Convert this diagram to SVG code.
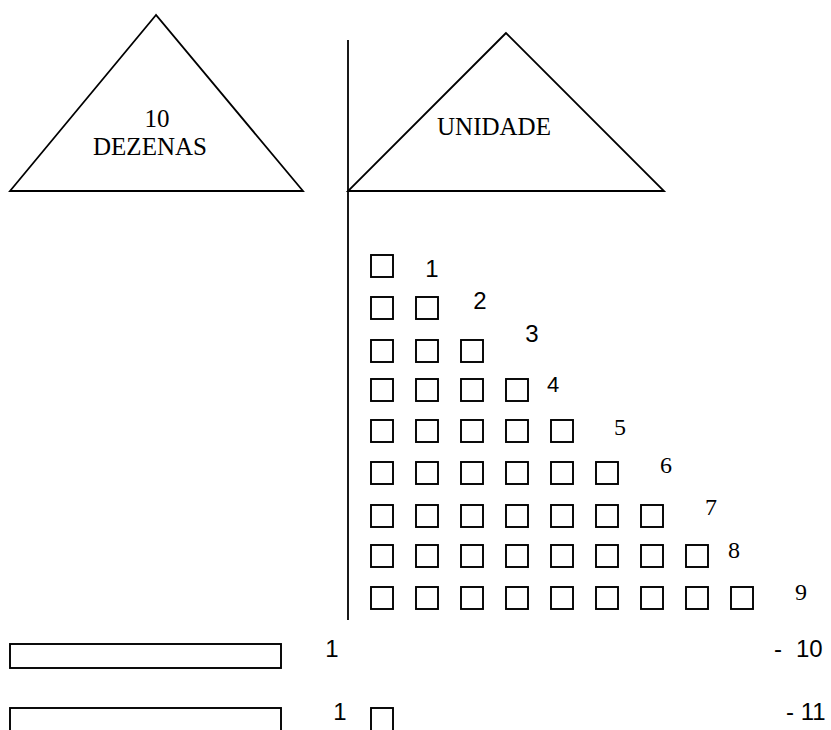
<svg xmlns="http://www.w3.org/2000/svg" width="831" height="730" viewBox="0 0 831 730">
<style>
.ln{fill:none;stroke:#000;stroke-width:1.8}
.sq{fill:#fff;stroke:#000;stroke-width:1.9}
.tr{font-family:"Liberation Serif","Times New Roman",serif;font-size:24px;fill:#000;text-anchor:middle}
.tt{font-size:25px}
.ar{font-family:"Liberation Sans",Arial,sans-serif;font-size:24px;fill:#000;text-anchor:middle}
</style>
<rect width="831" height="730" fill="#fff"/>
<g id="dezenas">
<polygon class="ln" points="156,15 10,191 303,191"/>
<text class="tr tt" x="157" y="127">10</text>
<text class="tr tt" x="150" y="155">DEZENAS</text>
</g>
<g id="unidade">
<polygon class="ln" points="506,33 348,191 664,191"/>
<text class="tr tt" x="494" y="135">UNIDADE</text>
</g>
<g id="connectors">
<line class="ln" x1="348" y1="40" x2="348" y2="620"/>
</g>
<g id="squares">
<rect class="sq" x="371" y="255" width="22" height="22"/>
<rect class="sq" x="371" y="297" width="22" height="22"/><rect class="sq" x="416" y="297" width="22" height="22"/>
<rect class="sq" x="371" y="340" width="22" height="22"/><rect class="sq" x="416" y="340" width="22" height="22"/><rect class="sq" x="461" y="340" width="22" height="22"/>
<rect class="sq" x="371" y="379" width="22" height="22"/><rect class="sq" x="416" y="379" width="22" height="22"/><rect class="sq" x="461" y="379" width="22" height="22"/><rect class="sq" x="506" y="379" width="22" height="22"/>
<rect class="sq" x="371" y="420" width="22" height="22"/><rect class="sq" x="416" y="420" width="22" height="22"/><rect class="sq" x="461" y="420" width="22" height="22"/><rect class="sq" x="506" y="420" width="22" height="22"/><rect class="sq" x="551" y="420" width="22" height="22"/>
<rect class="sq" x="371" y="462" width="22" height="22"/><rect class="sq" x="416" y="462" width="22" height="22"/><rect class="sq" x="461" y="462" width="22" height="22"/><rect class="sq" x="506" y="462" width="22" height="22"/><rect class="sq" x="551" y="462" width="22" height="22"/><rect class="sq" x="596" y="462" width="22" height="22"/>
<rect class="sq" x="371" y="505" width="22" height="22"/><rect class="sq" x="416" y="505" width="22" height="22"/><rect class="sq" x="461" y="505" width="22" height="22"/><rect class="sq" x="506" y="505" width="22" height="22"/><rect class="sq" x="551" y="505" width="22" height="22"/><rect class="sq" x="596" y="505" width="22" height="22"/><rect class="sq" x="641" y="505" width="22" height="22"/>
<rect class="sq" x="371" y="545" width="22" height="22"/><rect class="sq" x="416" y="545" width="22" height="22"/><rect class="sq" x="461" y="545" width="22" height="22"/><rect class="sq" x="506" y="545" width="22" height="22"/><rect class="sq" x="551" y="545" width="22" height="22"/><rect class="sq" x="596" y="545" width="22" height="22"/><rect class="sq" x="641" y="545" width="22" height="22"/><rect class="sq" x="686" y="545" width="22" height="22"/>
<rect class="sq" x="371" y="587" width="22" height="22"/><rect class="sq" x="416" y="587" width="22" height="22"/><rect class="sq" x="461" y="587" width="22" height="22"/><rect class="sq" x="506" y="587" width="22" height="22"/><rect class="sq" x="551" y="587" width="22" height="22"/><rect class="sq" x="596" y="587" width="22" height="22"/><rect class="sq" x="641" y="587" width="22" height="22"/><rect class="sq" x="686" y="587" width="22" height="22"/><rect class="sq" x="731" y="587" width="22" height="22"/>
</g>
<g id="labels">
<text class="ar" x="432" y="277">1</text>
<text class="ar" x="480" y="309">2</text>
<text class="ar" x="532" y="342">3</text>
<text class="ar" x="553" y="392" style="font-size:22px">4</text>
<text class="tr" x="620" y="435">5</text>
<text class="tr" x="666" y="473">6</text>
<text class="tr" x="711" y="515">7</text>
<text class="tr" x="734" y="558">8</text>
<text class="tr" x="801" y="600">9</text>
</g>
<g id="row10">
<rect class="sq" x="10" y="644" width="271" height="24"/>
<text class="ar" x="332" y="657">1</text>
<text class="ar" x="774" y="657" style="text-anchor:start">- <tspan x="796">10</tspan></text>
</g>
<g id="row11">
<rect class="sq" x="10" y="708" width="271" height="30"/>
<text class="ar" x="340" y="720">1</text>
<rect class="sq" x="371" y="708" width="22" height="30"/>
<text class="ar" x="786" y="720" style="text-anchor:start">- 11</text>
</g>
</svg>
